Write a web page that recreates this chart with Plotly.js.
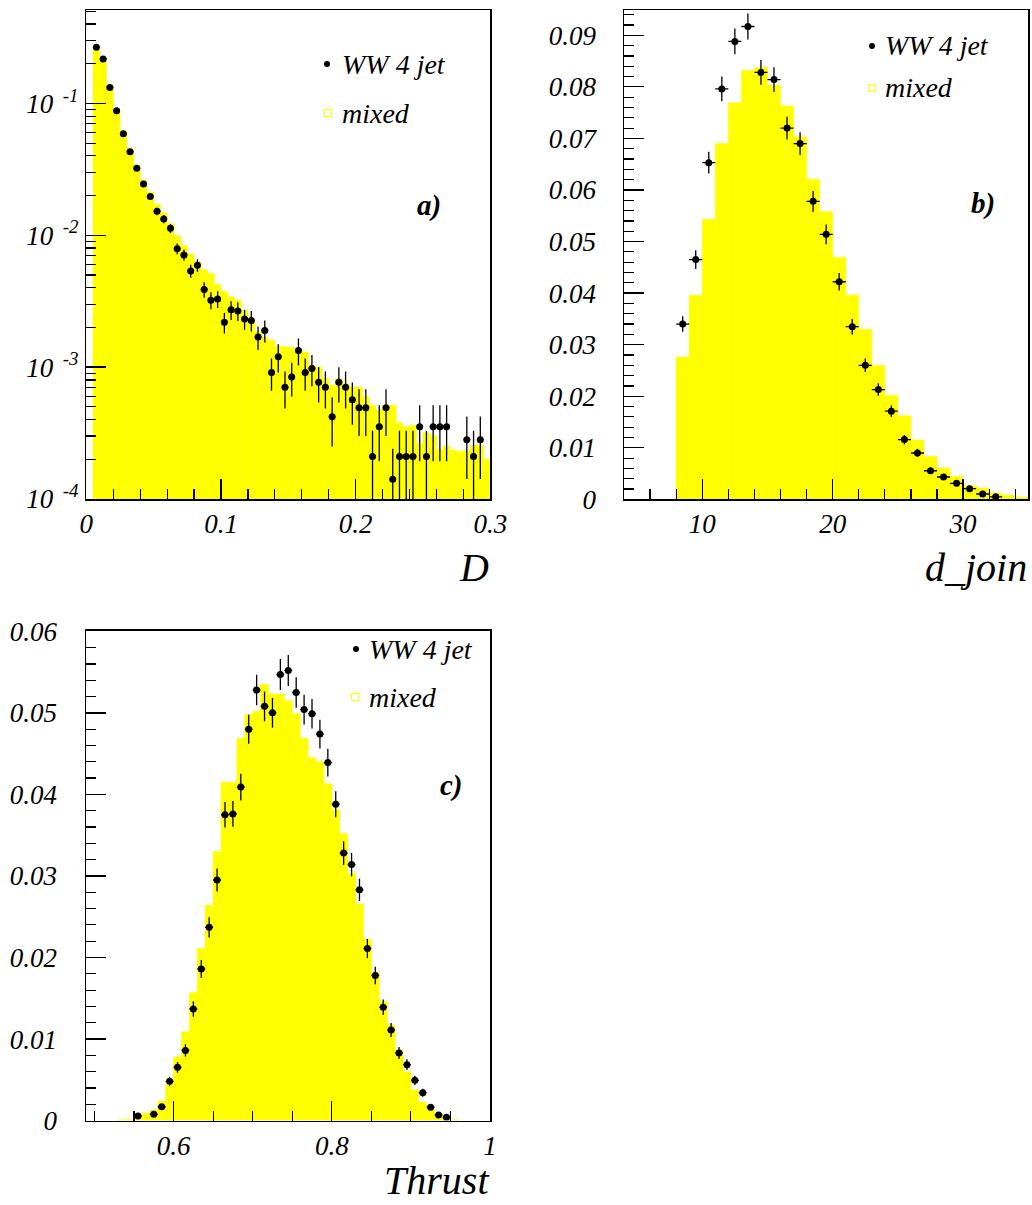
<!DOCTYPE html>
<html>
<head>
<meta charset="utf-8">
<script src="https://cdn.plot.ly/plotly-3.0.1.min.js"></script>
<style>
html,body{margin:0;padding:0;background:#fff;}
#chart{width:1032px;height:1205px;}
</style>
</head>
<body>
<div id="chart"></div>
<script>
// ---------------- Panel a) : D (log scale) ----------------
const dPointX = [0.0075,0.0125,0.0175,0.0225,0.0275,0.0325,0.0375,0.0425,0.0475,0.0525,
  0.0575,0.0625,0.0675,0.0725,0.0775,0.0825,0.0875,0.0925,0.0975,0.1025,
  0.1075,0.1125,0.1175,0.1225,0.1275,0.1325,0.1375,0.1425,0.1475,0.1525,
  0.1575,0.1625,0.1675,0.1725,0.1775,0.1825,0.1875,0.1925,0.1975,0.2025,
  0.2075,0.2125,0.2175,0.2225,0.2275,0.2325,0.2375,0.2425,0.2475,0.2525,
  0.2575,0.2625,0.2675,0.2825,0.2875,0.2925];
const dPointY = [0.267,0.217,0.132,0.088,0.0589,0.043,0.0322,0.0245,0.0197,0.0152,
  0.0133,0.0113,0.00792,0.0071,0.00537,0.00593,0.00388,0.00322,0.00329,0.00219,
  0.00272,0.00267,0.00232,0.00226,0.00169,0.0019,0.000912,0.0012,0.000705,0.00084,
  0.00134,0.000912,0.000977,0.000769,0.000705,0.00042,0.000769,0.000705,0.000565,0.000491,
  0.000491,0.00021,0.000353,0.000491,0.000141,0.00021,0.00021,0.00021,0.000353,0.00021,
  0.000353,0.000353,0.000353,0.000282,0.00021,0.000282];
const dPointErr = [0.0043,0.0039,0.003,0.0025,0.002,0.0017,0.0015,0.0013,0.0012,0.001,
  0.00096,0.00089,0.00074,0.0007,0.00061,0.00064,0.00052,0.00047,0.00048,0.00039,
  0.00044,0.00043,0.0004,0.0004,0.00034,0.00036,0.00025,0.00029,0.00022,0.00024,
  0.00031,0.00025,0.00026,0.00023,0.00022,0.00017,0.00023,0.00022,0.0002,0.00019,
  0.00019,0.00012,0.00016,0.00019,0.0001,0.00012,0.00012,0.00012,0.00016,0.00012,
  0.00016,0.00016,0.00016,0.00014,0.00012,0.00014];
const dHistX = [0.0075,0.0125,0.0175,0.0225,0.0275,0.0325,0.0375,0.0425,0.0475,0.0525,
  0.0575,0.0625,0.0675,0.0725,0.0775,0.0825,0.0875,0.0925,0.0975,0.1025,
  0.1075,0.1125,0.1175,0.1225,0.1275,0.1325,0.1375,0.1425,0.1475,0.1525,
  0.1575,0.1625,0.1675,0.1725,0.1775,0.1825,0.1875,0.1925,0.1975,0.2025,
  0.2075,0.2125,0.2175,0.2225,0.2275,0.2325,0.2375,0.2425,0.2475,0.2525,
  0.2575,0.2625,0.2675,0.2725,0.2775,0.2825,0.2875,0.2925,0.2975];
const dHistY = [0.252,0.224,0.137,0.0912,0.0617,0.0454,0.0339,0.0261,0.0213,0.0172,
  0.0148,0.0123,0.00995,0.0084,0.0072,0.0063,0.0055,0.00513,0.00423,0.00374,
  0.00341,0.00322,0.0027,0.00234,0.00185,0.00168,0.0016,0.00143,0.00143,0.00141,
  0.00135,0.0013,0.00102,0.001,0.00082,0.00073,0.00082,0.00075,0.00071,0.0007,
  0.000596,0.000515,0.000472,0.000515,0.000515,0.000378,0.000353,0.00036,0.000264,0.000318,
  0.0003,0.000235,0.000252,0.000235,0.00023,0.00023,0.000255,0.000255,0.0002];
const dBinWidth = 0.005;
const dTickVals = [1e-4,1e-3,1e-2,1e-1];
const dTickExp = ['-4','-3','-2','-1'];

// ---------------- Panel b) : d_join ----------------
const jPointX = [8.5,9.5,10.5,11.5,12.5,13.5,14.5,15.5,16.5,17.5,18.5,19.5,20.5,21.5,22.5,
  23.5,24.5,25.5,26.5,27.5,28.5,29.5,30.5,31.5,32.5];
const jPointY = [0.034,0.0465,0.0653,0.0796,0.0888,0.0917,0.0828,0.0814,0.072,0.069,0.0578,0.0514,
  0.0422,0.0335,0.026,0.0213,0.0171,0.0116,0.009,0.00556,0.00434,0.00312,0.00207,0.00105,0.0005];
const jPointErr = [0.0015,0.0018,0.0021,0.0024,0.0025,0.0025,0.0024,0.0024,0.0022,0.0022,0.002,0.0019,
  0.0017,0.0015,0.0013,0.0012,0.0011,0.0009,0.0008,0.0006,0.00055,0.00047,0.00038,0.00027,0.00019];
const jHistX = [8.5,9.5,10.5,11.5,12.5,13.5,14.5,15.5,16.5,17.5,18.5,19.5,20.5,21.5,22.5,
  23.5,24.5,25.5,26.5,27.5,28.5,29.5,30.5,31.5,32.5,33.5,34.5];
const jHistY = [0.0276,0.0396,0.0543,0.069,0.0769,0.0832,0.0837,0.0803,0.0763,0.0703,0.0621,0.0558,
  0.0469,0.0396,0.033,0.026,0.0202,0.0162,0.0115,0.0083,0.0061,0.0045,0.00266,0.0022,0.0012,0.0008,0.0004];
const jBinWidth = 1;

// ---------------- Panel c) : Thrust ----------------
const tPointX = [0.555,0.575,0.585,0.595,0.605,0.615,0.625,0.635,0.645,0.655,0.665,0.675,0.685,
  0.695,0.705,0.715,0.725,0.735,0.745,0.755,0.765,0.775,0.785,0.795,0.805,0.815,0.825,0.835,
  0.845,0.855,0.865,0.875,0.885,0.895,0.905,0.915,0.925,0.935,0.945];
const tPointY = [0.00056,0.00077,0.0017,0.00482,0.00653,0.0086,0.0137,0.0186,0.0237,0.0295,0.0375,0.0376,0.0409,
  0.048,0.0528,0.0508,0.05,0.0547,0.0552,0.0525,0.0504,0.0499,0.0474,0.0439,0.0388,0.0328,0.0314,0.0283,
  0.0211,0.0178,0.0139,0.0111,0.0083,0.00686,0.00494,0.00342,0.00163,0.00069,0.0004];
const tPointErr = [0.00019,0.00023,0.00033,0.00056,0.00066,0.00075,0.00095,0.0011,0.00125,0.0014,0.00157,0.00158,0.00164,
  0.00178,0.00187,0.00183,0.00182,0.0019,0.00191,0.00186,0.00182,0.00181,0.00177,0.0017,0.0016,0.00147,0.00144,0.00137,
  0.00118,0.00108,0.00096,0.00086,0.00074,0.00067,0.00057,0.00048,0.00033,0.00021,0.00016];
const tHistX = [0.535,0.545,0.555,0.565,0.575,0.585,0.595,0.605,0.615,0.625,0.635,0.645,0.655,0.665,
  0.675,0.685,0.695,0.705,0.715,0.725,0.735,0.745,0.755,0.765,0.775,0.785,0.795,0.805,0.815,
  0.825,0.835,0.845,0.855,0.865,0.875,0.885,0.895,0.905,0.915,0.925,0.935,0.945,0.955];
const tHistY = [0.0001,0.0001,0.0004,0.0009,0.0013,0.0024,0.0045,0.0078,0.0109,0.0157,0.0211,0.0264,0.033,0.0415,
  0.0415,0.0469,0.0498,0.0502,0.0535,0.0523,0.0523,0.0515,0.0499,0.0469,0.0445,0.044,0.0413,0.0381,0.0352,
  0.0303,0.0266,0.0222,0.0182,0.0146,0.0117,0.0087,0.006,0.00375,0.00224,0.0013,0.0007,0.0003,0.0001];
const tBinWidth = 0.01;

const seriesNames = ['WW 4 jet', 'mixed'];
const panelLabels = ['a)', 'b)', 'c)'];
const axisTitles = ['D', 'd_join', 'Thrust'];

// ---------------- styling ----------------
const W = 1032, H = 1205;
const YELLOW = '#ffff00';
const FONT = 'Liberation Serif';
const tickFont = {family: FONT, size: 27, color: '#000', style: 'italic'};
const px = v => v / W;
const py = v => 1 - v / H;

function histTrace(x, y, w, xa, ya, name) {
  return {type: 'bar', x: x, y: y, width: w, xaxis: xa, yaxis: ya, name: name,
    marker: {color: YELLOW, line: {color: YELLOW, width: 0.6}}, showlegend: false, hoverinfo: 'x+y'};
}
function pointTrace(x, y, e, halfBin, xa, ya, name) {
  return {type: 'scatter', mode: 'markers', x: x, y: y, xaxis: xa, yaxis: ya, name: name,
    marker: {color: '#000', size: 7},
    error_y: {type: 'data', array: e, visible: true, color: '#000', thickness: 1.3, width: 0},
    error_x: {type: 'constant', value: halfBin, visible: true, color: '#000', thickness: 1.3, width: 0},
    showlegend: false};
}

const data = [
  histTrace(dHistX, dHistY, dBinWidth, 'x', 'y', seriesNames[1]),
  pointTrace(dPointX, dPointY, dPointErr, dBinWidth / 2, 'x', 'y', seriesNames[0]),
  histTrace(jHistX, jHistY, jBinWidth, 'x2', 'y2', seriesNames[1]),
  pointTrace(jPointX, jPointY, jPointErr, jBinWidth / 2, 'x2', 'y2', seriesNames[0]),
  histTrace(tHistX, tHistY, tBinWidth, 'x3', 'y3', seriesNames[1]),
  pointTrace(tPointX, tPointY, tPointErr, tBinWidth / 2, 'x3', 'y3', seriesNames[0])
];

function axisBase(extra) {
  return Object.assign({
    showline: true, mirror: true, linecolor: '#000', linewidth: 1.5,
    ticks: 'inside', ticklen: 20, tickwidth: 1.3, tickcolor: '#000',
    showgrid: false, zeroline: false, tickfont: tickFont, fixedrange: true
  }, extra);
}
function minor(extra) {
  return Object.assign({ticks: 'inside', ticklen: 10, tickwidth: 1.2, tickcolor: '#000', showgrid: false}, extra);
}

const logMinor = [];
for (let k = -4; k <= -1; k++) for (let m = 2; m <= 9; m++) logMinor.push(m * Math.pow(10, k));

const xA = [86.3, 490.4], yA = [10, 499];
const xB = [624, 1028.3], yB = [10, 499.4];
const xC = [86, 490], yC = [630.5, 1120.6];

const layout = {
  width: W, height: H,
  margin: {l: 0, r: 0, t: 0, b: 0},
  paper_bgcolor: '#fff', plot_bgcolor: '#fff',
  font: {family: FONT},
  showlegend: false, bargap: 0, barmode: 'overlay',
  xaxis: axisBase({domain: [px(xA[0]), px(xA[1])], anchor: 'y', range: [0, 0.3],
    tickvals: [0, 0.1, 0.2, 0.3], minor: minor({dtick: 0.02, tick0: 0}), ticklabelstandoff: 0}),
  yaxis: axisBase({domain: [py(yA[1]), py(yA[0])], anchor: 'x', type: 'log', range: [-4, -0.2916],
    tickvals: dTickVals, ticktext: dTickExp.map(e => '10<sup>  ' + e + '</sup>'),
    minor: minor({tickvals: logMinor}), ticklabelstandoff: 1}),
  xaxis2: axisBase({domain: [px(xB[0]), px(xB[1])], anchor: 'y2', range: [4, 35],
    tickvals: [10, 20, 30], minor: minor({dtick: 2, tick0: 0}), ticklabelstandoff: 0}),
  yaxis2: axisBase({domain: [py(yB[1]), py(yB[0])], anchor: 'x2', range: [0, 0.0949],
    dtick: 0.01, tick0: 0, minor: minor({dtick: 0.002, tick0: 0}), ticklabelstandoff: 21}),
  xaxis3: axisBase({domain: [px(xC[0]), px(xC[1])], anchor: 'y3', range: [0.4893, 1.0],
    tickvals: [0.6, 0.8, 1.0], minor: minor({dtick: 0.05, tick0: 0}), ticklabelstandoff: 0}),
  yaxis3: axisBase({domain: [py(yC[1]), py(yC[0])], anchor: 'x3', range: [0, 0.0601],
    dtick: 0.01, tick0: 0, minor: minor({dtick: 0.002, tick0: 0}), ticklabelstandoff: 22}),
  annotations: [],
  shapes: []
};

const legFont = {family: FONT, size: 28, color: '#000', style: 'italic'};
const lblFont = {family: FONT, size: 29, color: '#000', style: 'italic', weight: 'bold'};
const titleFont = {family: FONT, size: 40, color: '#000', style: 'italic'};

function legend(dotX, dotY, sqX, sqY, textX) {
  layout.shapes.push({type: 'circle', xref: 'paper', yref: 'paper',
    x0: px(dotX - 3), x1: px(dotX + 3), y0: py(dotY + 3), y1: py(dotY - 3),
    fillcolor: '#000', line: {width: 0}});
  layout.shapes.push({type: 'rect', xref: 'paper', yref: 'paper',
    x0: px(sqX - 3.5), x1: px(sqX + 3.5), y0: py(sqY + 3.5), y1: py(sqY - 3.5),
    fillcolor: '#fff', line: {color: YELLOW, width: 1.2}});
  layout.annotations.push({xref: 'paper', yref: 'paper', x: px(textX), y: py(dotY),
    xanchor: 'left', yanchor: 'middle', showarrow: false, text: seriesNames[0], font: legFont});
  layout.annotations.push({xref: 'paper', yref: 'paper', x: px(textX), y: py(sqY),
    xanchor: 'left', yanchor: 'middle', showarrow: false, text: seriesNames[1], font: legFont});
}
legend(327, 64, 328, 113, 340);
legend(872, 46, 872, 88, 883);
legend(356, 649, 355, 697, 367);

[[429, 205], [983, 203], [451, 785]].forEach((p, i) => {
  layout.annotations.push({xref: 'paper', yref: 'paper', x: px(p[0]), y: py(p[1]),
    xanchor: 'center', yanchor: 'middle', showarrow: false, text: panelLabels[i], font: lblFont});
});
[[491, 567, 'middle'], [1029, 567, 'middle'], [491, 1205, 'bottom']].forEach((p, i) => {
  layout.annotations.push({xref: 'paper', yref: 'paper', x: px(p[0]), y: py(p[1]),
    xanchor: 'right', yanchor: p[2], showarrow: false, text: axisTitles[i], font: titleFont});
});

Plotly.newPlot('chart', data, layout, {displayModeBar: false, staticPlot: true});
</script>
</body>
</html>
